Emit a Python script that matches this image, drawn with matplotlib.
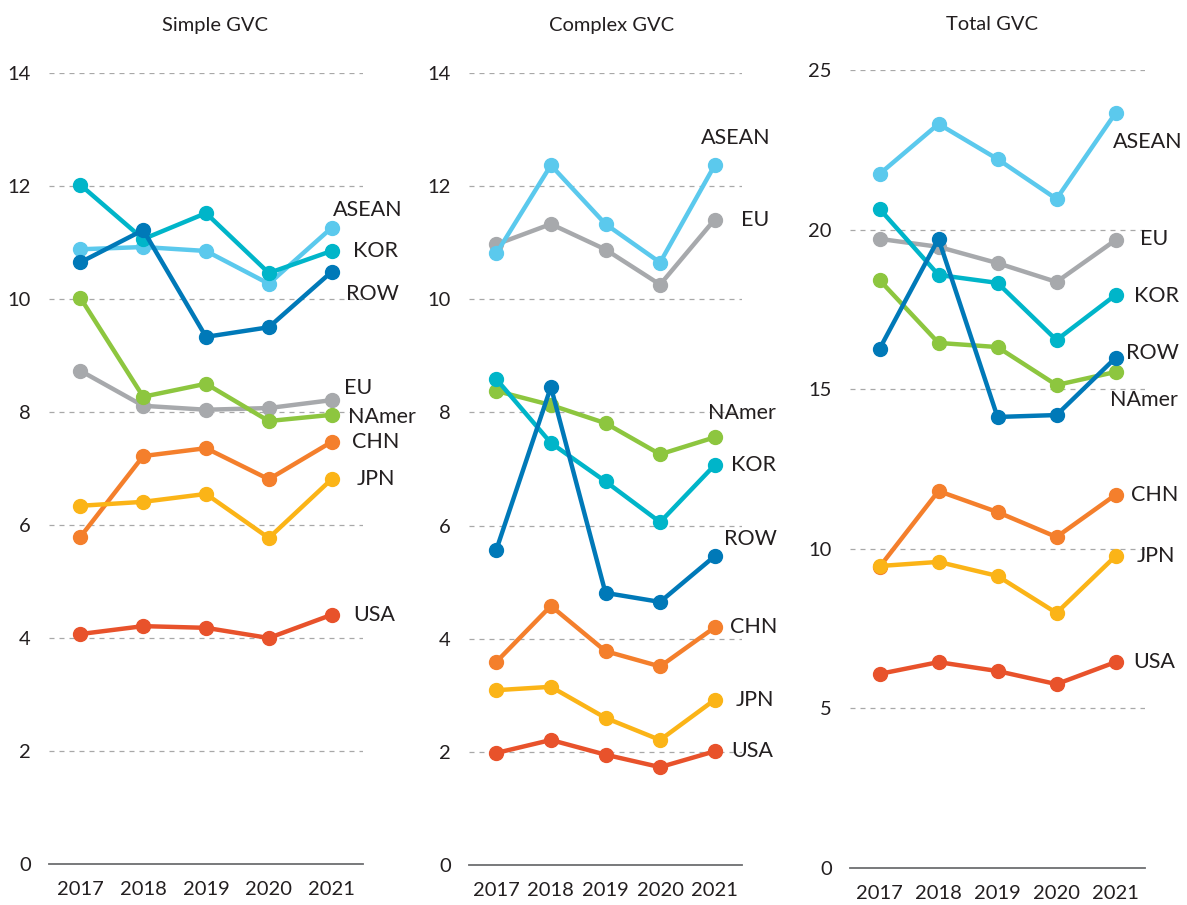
import matplotlib.pyplot as plt

plt.rcParams['font.family'] = ['Lato', 'DejaVu Sans']

years = [2017, 2018, 2019, 2020, 2021]
regions = ["USA", "CHN", "JPN", "EU", "NAmer", "ASEAN", "KOR", "ROW"]
colores = {
    "ASEAN": "#5bc9ed", "KOR": "#00b5c9", "ROW": "#0079b8", "NAmer": "#8dc63f",
    "EU": "#a7a9ac", "CHN": "#f47f2c", "JPN": "#fbb417", "USA": "#e8522b",
}

# valores
simple = {
    "ASEAN": [10.88, 10.92, 10.85, 10.27, 11.26],
    "KOR":   [12.02, 11.06, 11.52, 10.46, 10.85],
    "ROW":   [10.65, 11.22, 9.33, 9.50, 10.48],
    "NAmer": [10.02, 8.27, 8.50, 7.84, 7.95],
    "EU":    [8.73, 8.11, 8.04, 8.07, 8.21],
    "CHN":   [5.79, 7.22, 7.36, 6.81, 7.47],
    "JPN":   [6.34, 6.41, 6.55, 5.77, 6.81],
    "USA":   [4.07, 4.21, 4.18, 4.00, 4.41],
}
complex_ = {
    "ASEAN": [10.81, 12.37, 11.33, 10.65, 12.37],
    "EU":    [10.97, 11.33, 10.88, 10.26, 11.41],
    "KOR":   [8.59, 7.46, 6.78, 6.06, 7.07],
    "NAmer": [8.38, 8.13, 7.81, 7.26, 7.56],
    "ROW":   [5.57, 8.45, 4.81, 4.65, 5.46],
    "CHN":   [3.59, 4.58, 3.78, 3.51, 4.20],
    "JPN":   [3.09, 3.15, 2.60, 2.21, 2.92],
    "USA":   [1.98, 2.21, 1.95, 1.73, 2.01],
}
total = {
    "ASEAN": [21.74, 23.31, 22.21, 20.96, 23.65],
    "KOR":   [20.65, 18.58, 18.33, 16.54, 17.95],
    "EU":    [19.71, 19.46, 18.95, 18.36, 19.67],
    "NAmer": [18.42, 16.45, 16.32, 15.13, 15.54],
    "ROW":   [16.26, 19.71, 14.13, 14.19, 15.98],
    "CHN":   [9.43, 11.81, 11.15, 10.37, 11.69],
    "JPN":   [9.46, 9.59, 9.15, 7.99, 9.77],
    "USA":   [6.08, 6.45, 6.17, 5.76, 6.45],
}

# desplazamiento de etiquetas (pixeles) respecto al punto 2021
off_simple = {"ASEAN": (1, 18), "KOR": (21, 0), "ROW": (14, -22), "EU": (12, 12),
              "NAmer": (16, -2), "CHN": (20, 0), "JPN": (25, 0), "USA": (22, 0)}
off_complex = {"ASEAN": (-14, 27), "EU": (26, 0), "NAmer": (-7, 24), "KOR": (16, 0),
               "ROW": (9, 17), "CHN": (15, 0), "JPN": (21, 0), "USA": (17, 0)}
off_total = {"ASEAN": (-3, -29), "EU": (25, 1), "KOR": (18, -1), "ROW": (11, 5),
             "NAmer": (-6, -28), "CHN": (16, 0), "JPN": (21, 0), "USA": (18, 0)}

W, H = 1187, 905
fig = plt.figure(figsize=(W / 100, H / 100), dpi=100)

paneles = [
    ("Simple GVC", simple, off_simple, (49, 363, 73, 864), 14, [0, 2, 4, 6, 8, 10, 12, 14], 215),
    ("Complex GVC", complex_, off_complex, (469, 742, 73, 865), 14, [0, 2, 4, 6, 8, 10, 12, 14], 612),
    ("Total GVC", total, off_total, (850, 1145, 70, 868), 25, [0, 5, 10, 15, 20, 25], 992),
]

for titulo, datos, offs, (x0, x1, ytop, ybot), ymax, yt, xtit in paneles:
    ax = fig.add_axes([x0 / W, 1 - ybot / H, (x1 - x0) / W, (ybot - ytop) / H])
    ax.set_xlim(2016.5, 2021.5)
    ax.set_ylim(0, ymax)
    ax.set_yticks(yt)
    ax.set_xticks(years)
    ax.tick_params(length=0, labelsize=14.5, colors="#231f20")
    ax.tick_params(axis="y", pad=13)
    ax.tick_params(axis="x", pad=12)
    for s in ["top", "right", "left"]:
        ax.spines[s].set_visible(False)
    ax.spines["bottom"].set_color("#6d6e71")
    ax.spines["bottom"].set_linewidth(1.3)
    for v in yt[1:]:
        ax.axhline(v, color="#a8a8a8", linestyle=(0, (4, 4)), linewidth=0.9, zorder=0)
    for r in regions:
        ax.plot(years, datos[r], color=colores[r], linewidth=3.2, marker="o",
                markersize=10, clip_on=False)
        dx, dy = offs[r]
        ax.annotate(r, (years[-1], datos[r][-1]), xytext=(dx, dy),
                    textcoords="offset pixels", ha="left", va="center",
                    fontsize=15.5, color="#231f20", annotation_clip=False)
    fig.text(xtit / W, 1 - 25 / H, titulo, ha="center", va="center",
             fontsize=14.5, color="#231f20")

plt.savefig("out.png", dpi=100)
